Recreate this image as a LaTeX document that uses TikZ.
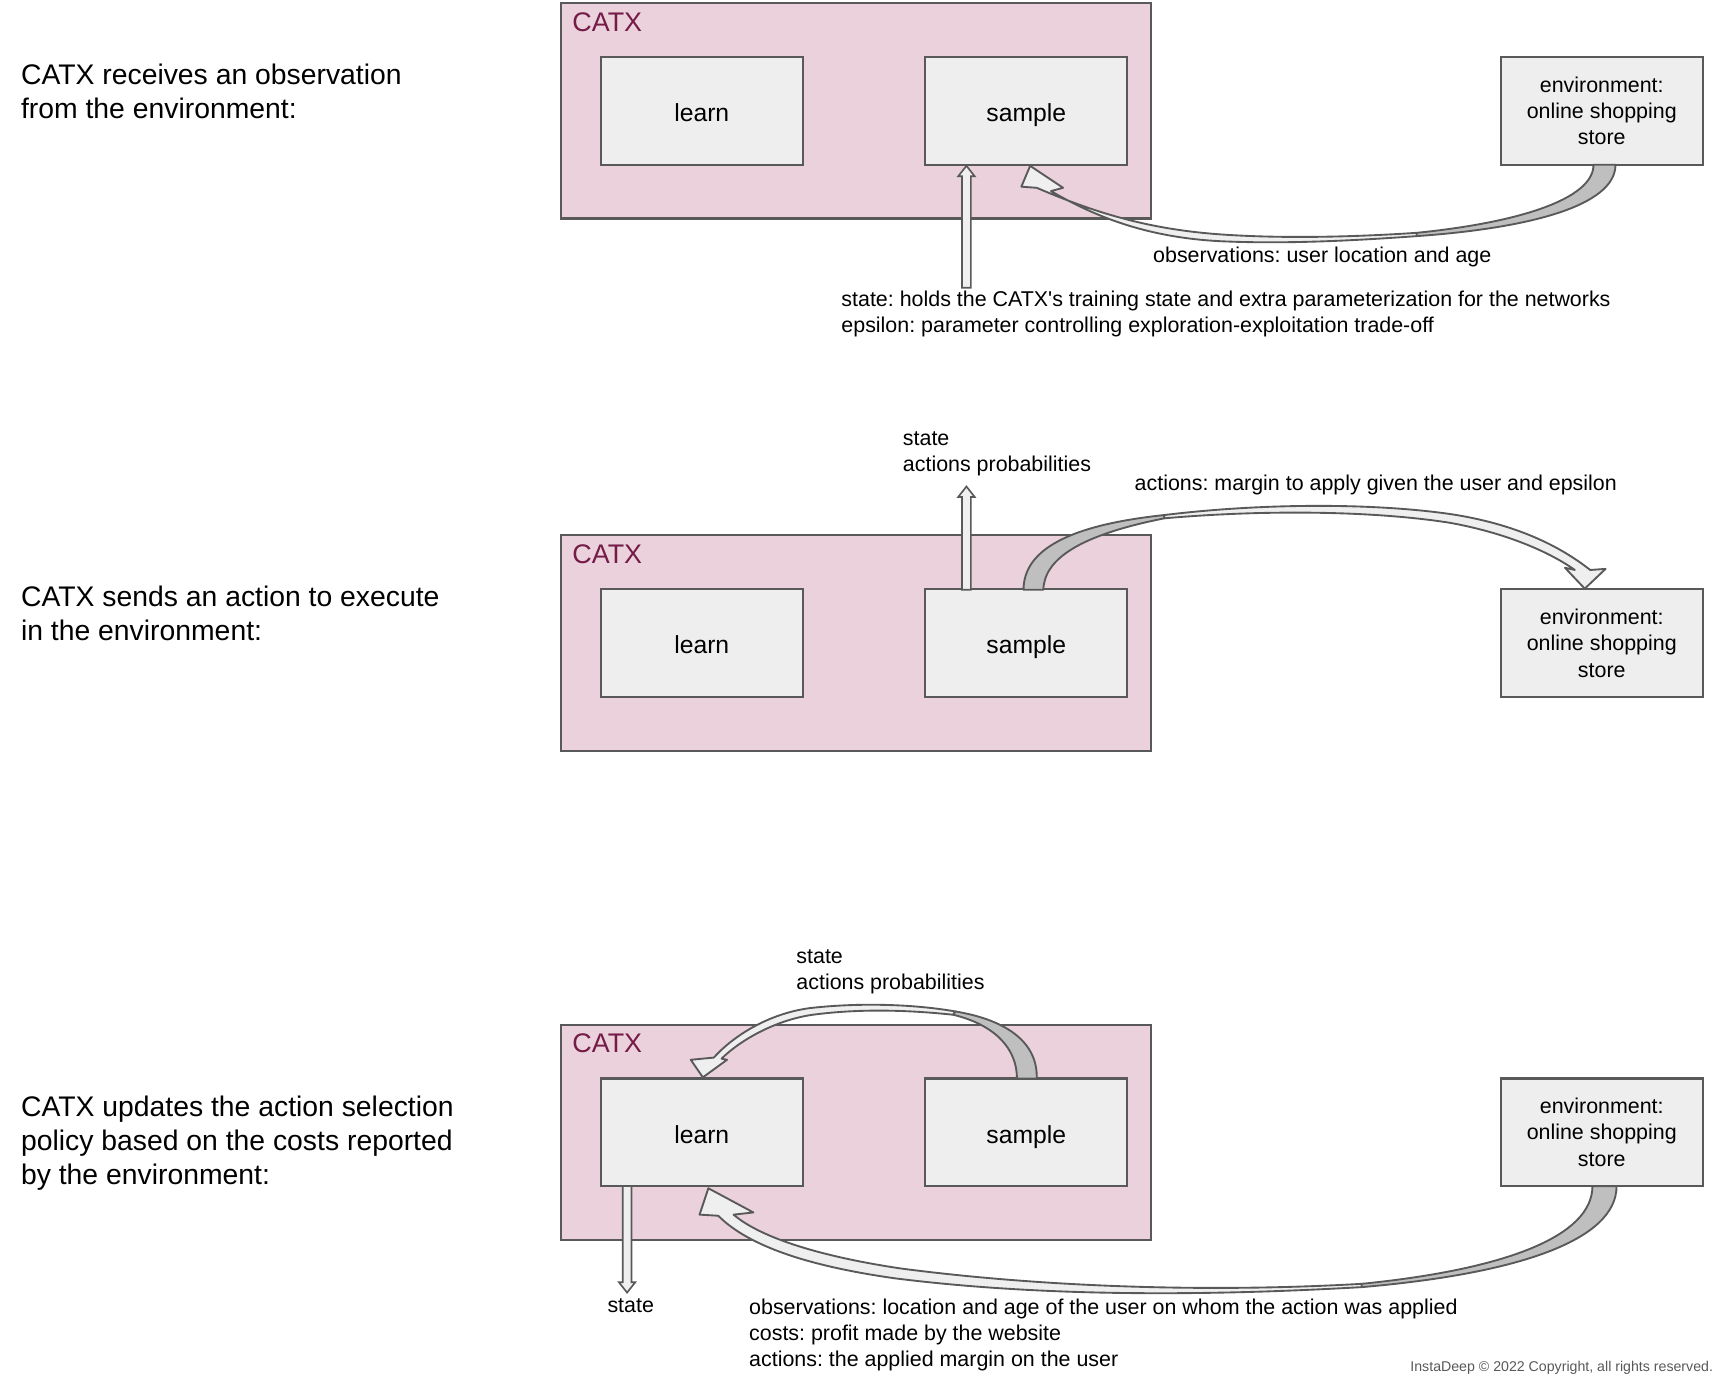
\documentclass[tikz,border=0pt]{standalone}
\usepackage{fontspec}
\setmainfont{Liberation Sans}
\frenchspacing
\definecolor{catxpink}{HTML}{EAD1DC}
\definecolor{boxgray}{HTML}{EEEEEE}
\definecolor{edgegray}{HTML}{595959}
\definecolor{catxtext}{HTML}{741B47}
\definecolor{ribbondark}{HTML}{BFBFBF}
\definecolor{ribbonlight}{HTML}{EFEFEF}
\definecolor{copygray}{HTML}{595959}
\tikzset{
  catxbox/.style={draw=edgegray, fill=catxpink, line width=2pt, minimum width=537pt, minimum height=196pt, inner sep=0pt},
  boxbase/.style={draw=edgegray, fill=boxgray, line width=2pt, minimum width=184pt, minimum height=98pt, inner sep=0pt},
  fnbox/.style={boxbase, text height=20pt, text depth=0pt, font=\fontsize{22.5}{27}\selectfont},
  envbox/.style={boxbase, font=\fontsize{19.5}{24}\selectfont, align=center},
  catxlabel/.style={anchor=west, inner sep=0pt, text=catxtext, font=\fontsize{24.5}{29}\selectfont},
  caption/.style={anchor=north west, inner sep=0pt, align=left, font=\fontsize{25.8}{31}\selectfont},
  lbl/.style={inner sep=0pt, align=left, font=\fontsize{19.5}{24}\selectfont},
  ribbonback/.style={draw=edgegray, fill=ribbondark, line width=1.7pt, line join=round},
  ribbonfront/.style={draw=edgegray, fill=ribbonlight, line width=1.7pt, line join=round},
  blockarrow/.style={draw=edgegray, fill=ribbonlight, line width=1.5pt, line join=miter},
}
% vertical hollow block arrow: x, y of tail, y of tip
\newcommand{\vbarrow}[3]{%
  \pgfmathsetmacro{\hbase}{#3 + ((#2>#3) ? 9.5 : -9.5)}%
  \draw[blockarrow] (#1-4,#2) -- (#1-4,\hbase) -- (#1-7.5,\hbase) -- (#1,#3)
     -- (#1+7.5,\hbase) -- (#1+4,\hbase) -- (#1+4,#2) -- cycle;}
\begin{document}
\begin{tikzpicture}[x=1pt,y=-1pt]
\useasboundingbox (0,0) rectangle (1568,1265);
\fill[white] (0,0) rectangle (1568,1265);

% ---------------- Panel 1 ----------------
\node[catxbox] (catx1) at (779.5,101) {};
\node[catxlabel] (catxl1) at (521,20) {CATX};
\node[fnbox] (learn1) at (639,101) {learn};
\node[fnbox] (sample1) at (934.5,101) {sample};
\node[envbox] (env1) at (1458.5,101) {environment:\\online shopping\\store};
\node[caption] (cap1) at (19,58) {CATX receives an observation\\from the environment:};

% curved arrow env1 -> sample1
\draw[ribbonfront] (1290,212) .. controls (1230,216) and (1170,217) .. (1120,214)
  .. controls (1050,210) and (1000,195) .. (944,171) -- (930,170) -- (938,151) -- (968,171) -- (957,174)
  .. controls (1005,202) and (1055,218) .. (1120,220) .. controls (1175,222) and (1235,219) .. (1290,215) -- cycle;
\draw[ribbonback] (1451,150) -- (1471,150) .. controls (1471,188) and (1390,208) .. (1290,215)
  -- (1290,212) .. controls (1380,203) and (1451,182) .. (1451,150) -- cycle;
% state arrow into sample1
\vbarrow{880}{262}{151}

\node[lbl, anchor=north] (obs1) at (1204,224.4) {observations: user location and age};
\node[lbl, anchor=north west] (st1) at (766,264.4) {state: holds the CATX\textquotesingle s training state and extra parameterization for the networks\\epsilon: parameter controlling exploration-exploitation trade-off};

% ---------------- Panel 2 ----------------
\node[catxbox] (catx2) at (779.5,585.5) {};
\node[catxlabel] (catxl2) at (521,505) {CATX};
\node[fnbox] (learn2) at (639,585.5) {learn};
\node[fnbox] (sample2) at (934.5,585.5) {sample};
\node[envbox] (env2) at (1458.5,585.5) {environment:\\online shopping\\store};
\node[caption] (cap2) at (19,533) {CATX sends an action to execute\\in the environment:};

\vbarrow{880}{537}{443}
\draw[ribbonfront] (1060,469) .. controls (1150,458) and (1250,458) .. (1320,468)
  .. controls (1380,477) and (1420,497) .. (1448,519) -- (1462,518) -- (1443,536) -- (1425,517) -- (1434,519)
  .. controls (1410,502) and (1370,485) .. (1320,476) .. controls (1250,465) and (1150,464) .. (1060,472) -- cycle;
\draw[ribbonback] (932,537) -- (950,537) .. controls (951,508) and (985,487) .. (1060,472)
  -- (1060,469) .. controls (975,478) and (932,500) .. (932,537) -- cycle;

\node[lbl, anchor=north west] (sp2) at (822,392.4) {state\\actions probabilities};
\node[lbl, anchor=north west] (act2) at (1033,432.4) {actions: margin to apply given the user and epsilon};

% ---------------- Panel 3 ----------------
\node[catxbox] (catx3) at (779.5,1031) {};
\node[catxlabel] (catxl3) at (521,950) {CATX};
\node[fnbox] (learn3) at (639,1031) {learn};
\node[fnbox] (sample3) at (934.5,1031) {sample};
\node[envbox] (env3) at (1458.5,1031) {environment:\\online shopping\\store};
\node[caption] (cap3) at (19,998) {CATX updates the action selection\\policy based on the costs reported\\by the environment:};

% sample3 -> learn3
\draw[ribbonfront] (870,921) .. controls (830,914) and (780,913) .. (737,918)
  .. controls (700,923) and (668,943) .. (650,963) -- (629,965) -- (640,981) -- (662,965) -- (657,964)
  .. controls (673,948) and (705,929) .. (740,924) .. controls (785,918) and (830,920) .. (868,924) -- cycle;
\draw[ribbonback] (926,982) -- (944,982) .. controls (945,950) and (918,929) .. (870,921)
  -- (868,924) .. controls (905,933) and (926,954) .. (926,982) -- cycle;

% env3 -> learn3
\draw[ribbonfront] (1240,1169) .. controls (1100,1177) and (950,1172) .. (820,1155)
  .. controls (740,1143) and (690,1125) .. (668,1106) -- (686,1104) -- (645,1082) -- (637,1106) -- (654,1107)
  .. controls (682,1135) and (737,1153) .. (815,1164) .. controls (950,1181) and (1100,1180) .. (1240,1172) -- cycle;
\draw[ribbonback] (1450,1080) -- (1472,1080) .. controls (1472,1130) and (1380,1160) .. (1240,1172)
  -- (1240,1169) .. controls (1370,1156) and (1450,1126) .. (1450,1080) -- cycle;

% learn3 -> state
\vbarrow{571}{1080}{1177}

\node[lbl, anchor=north west] (sp3) at (725,864.4) {state\\actions probabilities};
\node[lbl, anchor=north west] (st3) at (553,1182.4) {state};
\node[lbl, anchor=north west] (obs3) at (682,1182.4) {observations: location and age of the user on whom the action was applied\\costs: profit made by the website\\actions: the applied margin on the user};

\node[inner sep=0pt, anchor=north east, text=copygray, font=\fontsize{12.9}{15}\selectfont] (copy) at (1560,1239) {InstaDeep © 2022 Copyright, all rights reserved.};
\end{tikzpicture}
\end{document}
